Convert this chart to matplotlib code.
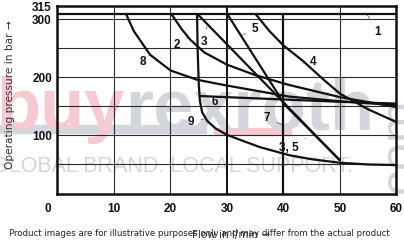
import numpy as np
import matplotlib
matplotlib.use('Agg')
import matplotlib.pyplot as plt
import matplotlib.transforms as mtransforms
from matplotlib.patches import Rectangle

# curves: flow (l/min) vs operating pressure (bar)
c1_x = [0, 60]
c1_y = [310, 310]
c2_x = [20.1, 22.0, 23.5, 26.0, 30.0, 35.0, 41.0, 50.0, 60.0]
c2_y = [310, 283, 265, 243, 222, 204, 187, 166, 149]
c3_x = [24.7, 40.3, 50.0]
c3_y = [310, 154, 57]
c4_x = [35.0, 37.5, 40.0, 43.5, 47.0, 50.0, 55.0, 60.0]
c4_y = [310, 280, 255, 228, 197, 172, 145, 123]
c5_x = [30.0, 40.3, 50.0]
c5_y = [310, 152, 57]
c6_x = [25.2, 30.0, 40.0, 50.0, 60.0]
c6_y = [168, 166, 162, 158, 155]
c7_x = [40, 40]
c7_y = [310, 0]
c8_x = [12.1, 13.5, 16.4, 20.0, 24.7, 30.0, 41.0, 50.0, 60.0]
c8_y = [310, 280, 239, 212, 196, 186, 167, 159, 152]
c9_x = [24.7, 24.8, 25.0, 25.2, 25.6, 26.5, 28.0, 30.0, 33.0, 35.8, 41.0, 45.0, 50.0, 55.0, 60.0]
c9_y = [310, 250, 190, 160, 140, 125, 112, 101, 90, 80, 66, 59, 53, 50, 49]

# curve labels: text, text position, leader end
labels = [
    ('1', (56.7, 278), (54.8, 308)),
    ('2', (21.2, 256), (23.1, 268)),
    ('3', (25.9, 261), (26.5, 290)),
    ('4', (45.3, 227), (43.4, 224)),
    ('5', (35.0, 284), (32.7, 273)),
    ('6', (27.9, 158), (30.0, 165)),
    ('7', (37.1, 130), (39.8, 118)),
    ('8', (15.1, 227), (16.3, 239)),
    ('9', (23.6, 123), (25.8, 128)),
    ('3, 5', (41.0, 78), (44.0, 95)),
]

x_ticks = [0, 10, 20, 30, 40, 50, 60]
y_ticks = [100, 200, 300, 323]
y_ticklabels = ['100', '200', '300', '315']

fig = plt.figure(figsize=(4.04, 2.42), dpi=100)
ax = fig.add_axes([0.1423, 0.2004, 0.8391, 0.7746])
ax.set_zorder(2)

# watermark behind the chart
wm_gray = '#d3d7dc'
wm_pink = '#f6c9d3'
fig.patches.append(Rectangle((0.0, 0.452), 0.51, 0.03, transform=fig.transFigure,
                             color=wm_gray, zorder=-1))
fig.patches.append(Rectangle((0.53, 0.443), 0.19, 0.028, transform=fig.transFigure,
                             color=wm_pink, zorder=-1))
fig.text(-0.01, 0.465, 'buy', fontsize=52, fontweight='bold', color=wm_pink,
         family='Liberation Sans', zorder=-1)
fig.text(0.31, 0.465, 'rexroth', fontsize=52, fontweight='bold', color=wm_gray,
         family='Liberation Sans', zorder=-1)
fig.text(-0.02, 0.29, 'GLOBAL BRAND. LOCAL SUPPORT.', fontsize=15.5, color=wm_gray,
         family='Liberation Sans', zorder=-1)
fig.text(0.93, 0.2, '.com', fontsize=36, color=wm_gray, rotation=90,
         family='Liberation Sans', zorder=-1)

ax.set_facecolor('none')
ax.set_xlim(0, 60)
ax.set_ylim(0, 323)

for gx in [10, 20, 50]:
    ax.axvline(gx, color='#2b2b2b', lw=0.8, zorder=1)
for gx in [30]:
    ax.axvline(gx, color='#111111', lw=1.4, zorder=1)
for gy in [50, 100, 150, 200, 250, 300]:
    ax.axhline(gy, color='#2b2b2b', lw=0.8, zorder=1)

kw = dict(color='#111111', lw=1.6, zorder=3, solid_capstyle='butt')
ax.plot(c1_x, c1_y, **kw)
ax.plot(c2_x, c2_y, **kw)
ax.plot(c3_x, c3_y, **kw)
ax.plot(c4_x, c4_y, **kw)
ax.plot(c5_x, c5_y, **kw)
ax.plot(c6_x, c6_y, **kw)
ax.plot(c7_x, c7_y, **kw)
ax.plot(c8_x, c8_y, **kw)
ax.plot(c9_x, c9_y, **kw)

for txt, (tx, ty), (lx, ly) in labels:
    ax.annotate(txt, xy=(lx, ly), xytext=(tx, ty), ha='center', va='center',
                fontsize=8.5, fontweight='bold', family='Liberation Sans', color='#111111',
                arrowprops=dict(arrowstyle='-', color='#555555', lw=0.5,
                                shrinkA=3, shrinkB=0), zorder=4)

for s in ax.spines.values():
    s.set_linewidth(1.8)
    s.set_color('#111111')

ax.set_xticks(x_ticks)
ax.set_xticklabels([str(v) for v in x_ticks])
ax.set_yticks(y_ticks)
ax.set_yticklabels(y_ticklabels)
ax.tick_params(length=0, labelsize=8.5, pad=7)
ax.tick_params(axis='y', pad=4)
for lab in ax.get_xticklabels() + ax.get_yticklabels():
    lab.set_fontweight('bold')
    lab.set_family('Liberation Sans')
    lab.set_color('#111111')
first = ax.get_xticklabels()[0]
first.set_transform(first.get_transform() +
                    mtransforms.ScaledTranslation(-10 / 100, 0, fig.dpi_scale_trans))

fig.text(0.025, 0.61, 'Operating pressure in bar \u2192', rotation=90, ha='center',
         va='center', fontsize=7.6, color='#333333')
fig.text(0.572, 0.03, 'Flow in l/min \u2192', ha='center', va='center',
         fontsize=7.5, color='#333333')
fig.text(0.022, 0.035, 'Product images are for illustrative purposes only and may differ from the actual product',
         ha='left', va='center', fontsize=6.25, color='#222222')

fig.savefig('out.png', dpi=100)
